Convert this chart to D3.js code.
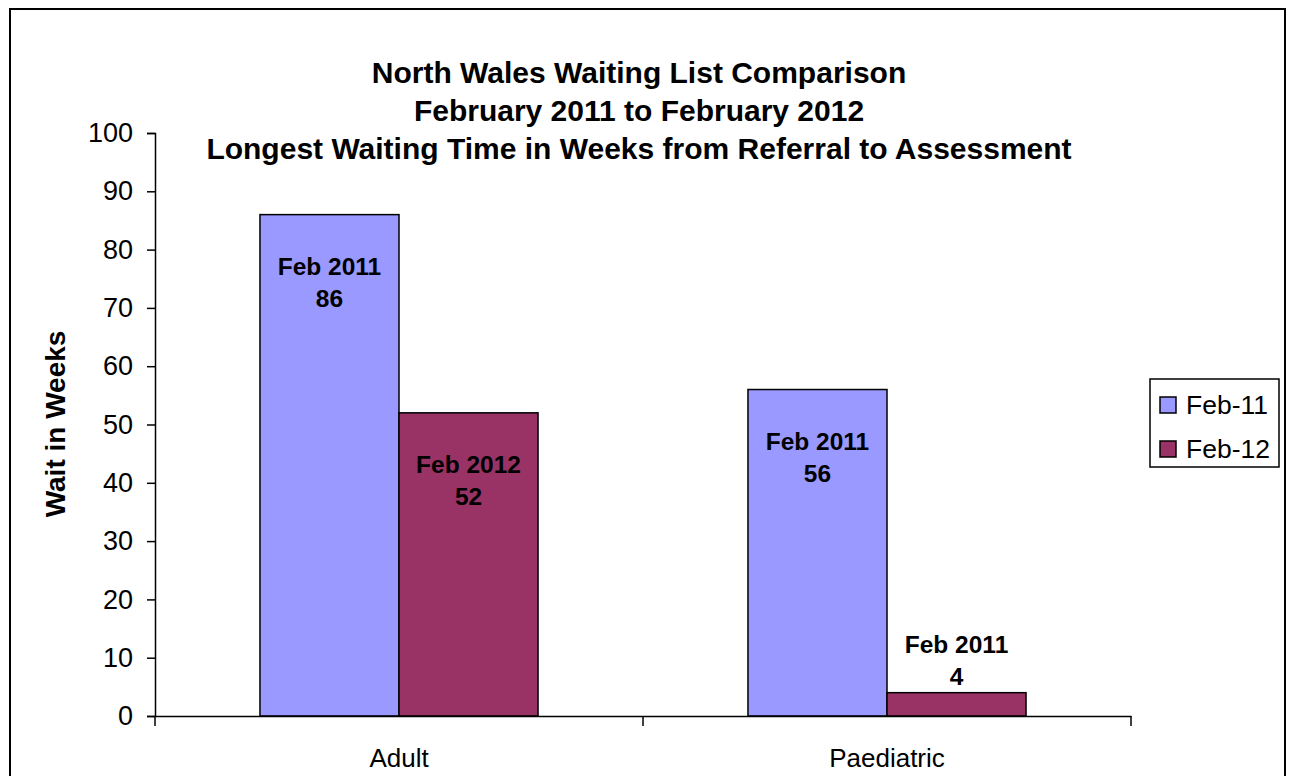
<!DOCTYPE html>
<html>
<head>
<meta charset="utf-8">
<script src="https://cdn.jsdelivr.net/npm/d3@7"></script>
<style>
  body { margin: 0; background: #fff; }
  text { font-family: "Liberation Sans", Arial, sans-serif; }
</style>
</head>
<body>
<script>
// chart data
var categories = ["Adult", "Paediatric"];
var series = ["Feb-11", "Feb-12"];
var values = [[86, 52], [56, 4]];
var barLabels = [["Feb 2011", "Feb 2012"], ["Feb 2011", "Feb 2011"]];
var yTicks = [0, 10, 20, 30, 40, 50, 60, 70, 80, 90, 100];
var colors = ["#9999FF", "#993366"];
var titleLines = ["North Wales Waiting List Comparison",
                  "February 2011 to February 2012",
                  "Longest Waiting Time in Weeks from Referral to Assessment"];

var W = 1289, H = 776;
var margin = {top: 133, left: 155};
var width = 976, height = 583;

var svg = d3.select("body").append("svg")
    .attr("width", W)
    .attr("height", H);

// outer frame
svg.append("rect")
    .attr("x", 10).attr("y", 9)
    .attr("width", 1275).attr("height", 800)
    .attr("fill", "none")
    .attr("stroke", "#000")
    .attr("stroke-width", 2);

var g = svg.append("g")
    .attr("transform", "translate(" + margin.left + "," + margin.top + ")");

var x0 = d3.scaleBand().domain(categories).range([0, width]);
var x1 = d3.scaleBand().domain(series).range([0, x0.bandwidth()])
    .paddingInner(0).paddingOuter(0.755);
var y = d3.scaleLinear().domain([0, 100]).range([height, 0]);

// bars
var groups = g.selectAll(".grp")
  .data(categories)
  .enter().append("g")
    .attr("transform", function(d) { return "translate(" + x0(d) + ",0)"; });

groups.each(function(cat, ci) {
  var grp = d3.select(this);
  series.forEach(function(s, si) {
    var v = values[ci][si];
    grp.append("rect")
      .attr("x", x1(s))
      .attr("y", y(v))
      .attr("width", x1.bandwidth())
      .attr("height", height - y(v))
      .attr("fill", colors[si])
      .attr("stroke", "#000")
      .attr("stroke-width", 1.5);

    var cx = x1(s) + x1.bandwidth() / 2;
    var top = v > 20 ? y(v) + 60 : y(v) - 40;
    var t = grp.append("text")
      .attr("text-anchor", "middle")
      .attr("font-weight", "bold")
      .attr("font-size", 24.5)
      .attr("fill", "#000");
    t.append("tspan").attr("x", cx).attr("y", top).text(barLabels[ci][si]);
    t.append("tspan").attr("x", cx).attr("y", top + 32).text(v);
  });
});

// y axis
var yAxis = g.append("g")
  .call(d3.axisLeft(y).tickValues(yTicks).tickSizeOuter(0).tickSize(8).tickPadding(14));
yAxis.selectAll("text").attr("font-size", 27).attr("fill", "#000")
  .style("font-family", '"Liberation Sans", Arial, sans-serif');
yAxis.selectAll("line").attr("stroke", "#000").attr("stroke-width", 1.5);
yAxis.select(".domain").attr("stroke", "#000").attr("stroke-width", 1.5);

// x axis
var xAxis = g.append("g")
  .attr("transform", "translate(0," + height + ")")
  .call(d3.axisBottom(x0).tickSize(0).tickPadding(33));
xAxis.select(".domain").attr("stroke", "#000").attr("stroke-width", 1.5);
xAxis.selectAll("text").attr("font-size", 26).attr("fill", "#000")
  .style("font-family", '"Liberation Sans", Arial, sans-serif');

// category boundary ticks
var bounds = categories.map(function(d) { return x0(d); }).concat([width]);
g.selectAll(".btick")
  .data(bounds)
  .enter().append("line")
    .attr("x1", function(d) { return d; })
    .attr("x2", function(d) { return d; })
    .attr("y1", height)
    .attr("y2", height + 10)
    .attr("stroke", "#000")
    .attr("stroke-width", 1.5);

// title
svg.append("text")
    .attr("text-anchor", "middle")
    .attr("font-weight", "bold")
    .attr("font-size", 30)
  .selectAll("tspan")
  .data(titleLines)
  .enter().append("tspan")
    .attr("x", 639)
    .attr("y", function(d, i) { return 83 + i * 38; })
    .text(function(d) { return d; });

// y axis title
svg.append("text")
    .attr("transform", "translate(65,424) rotate(-90)")
    .attr("text-anchor", "middle")
    .attr("font-weight", "bold")
    .attr("font-size", 28)
    .text("Wait in Weeks");

// legend
var legend = svg.append("g").attr("transform", "translate(1150,379)");
legend.append("rect")
    .attr("width", 129).attr("height", 88)
    .attr("fill", "#fff")
    .attr("stroke", "#000")
    .attr("stroke-width", 1.5);
series.forEach(function(s, i) {
  legend.append("rect")
    .attr("x", 10).attr("y", 18 + i * 44)
    .attr("width", 16).attr("height", 16)
    .attr("fill", colors[i])
    .attr("stroke", "#000")
    .attr("stroke-width", 1.5);
  legend.append("text")
    .attr("x", 36).attr("y", 35 + i * 44)
    .attr("font-size", 26.5)
    .text(s);
});
</script>
</body>
</html>
